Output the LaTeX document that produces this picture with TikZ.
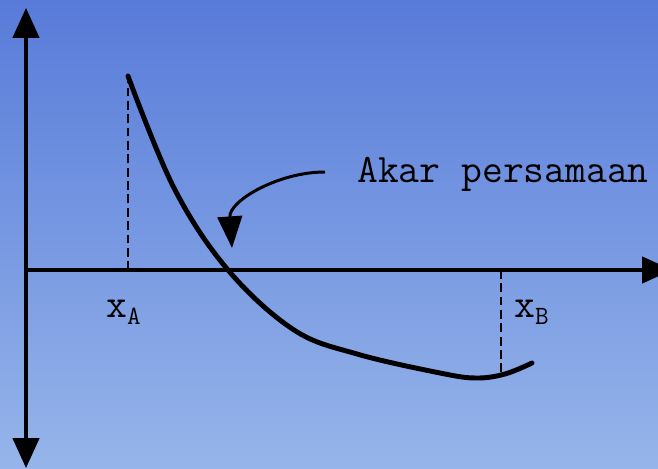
\documentclass[tikz,border=0pt]{standalone}
\usepackage{fontspec}
\usetikzlibrary{arrows.meta, positioning}
\definecolor{skytop}{HTML}{587BD9}
\definecolor{skybot}{HTML}{96B5EA}
\tikzset{
  every picture/.style={x=0.02cm, y=-0.02cm},
  axis/.style={line width=1.8pt, -{Triangle[length=17pt, width=15pt]}},
  drop/.style={line width=1.2pt, dash pattern=on 5pt off 2.6pt},
  graph/.style={line width=2.8pt, line cap=round},
  pointer/.style={line width=1.7pt, -{Triangle[length=18pt, width=14pt]}},
  label/.style={font=\ttfamily\fontsize{23}{27}\selectfont, inner sep=0pt},
}
\newcommand{\sublbl}[2]{#1\raisebox{-0.45ex}{\fontsize{15}{17}\selectfont #2}}

\begin{document}
\begin{tikzpicture}
  \useasboundingbox (0,0) rectangle (658,469);
  \shade[top color=skytop, bottom color=skybot] (0,0) rectangle (658,469);
  \begin{scope}
  \clip (0,0) rectangle (658,469);

  % axes
  \coordinate (origin) at (26,270);
  \coordinate (ytop) at (26,8);
  \coordinate (ybot) at (26,468);
  \coordinate (xend) at (672,270);
  \draw[axis] (origin) -- (ytop);
  \draw[axis] (origin) -- (ybot);
  \draw[axis] (origin) -- (xend);

  % bracket points
  \coordinate (xa) at (128,270);
  \coordinate (fa) at (128,73);
  \coordinate (xb) at (501,270);
  \coordinate (fb) at (501,372);
  \draw[drop] (xa) -- (fa);
  \draw[drop] (xb) -- (fb);

  % f(x)
  \draw[graph] plot[smooth, tension=0.6] coordinates {
    (128,76) (174,188) (228,270) (294,330) (357,354) (440,373)
    (476,378) (505,374) (532,363)};

  \node[label, anchor=base west] (xalbl) at (106,317) {\sublbl{x}{A}};
  \node[label, anchor=base west] (xblbl) at (514,317) {\sublbl{x}{B}};

  \node[label, anchor=base west] (akar) at (357,183) {Akar persamaan};
  \coordinate (tail) at (325,172);
  \coordinate (root) at (232,248);
  \draw[pointer] (tail) to[out=180, in=94] (root);
  \end{scope}
\end{tikzpicture}
\end{document}
